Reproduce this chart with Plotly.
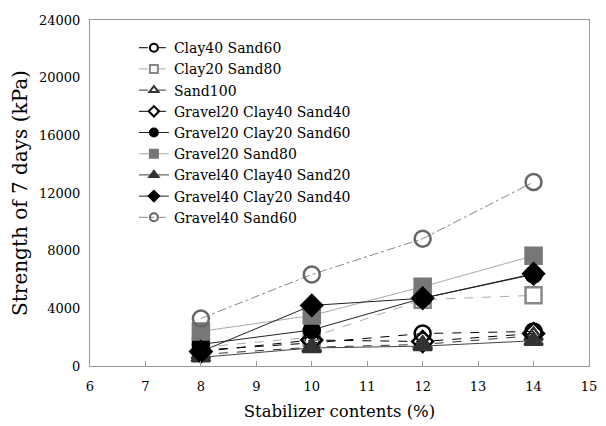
import plotly.graph_objects as go

x = [8, 10, 12, 14]
names = ["Clay40 Sand60", "Clay20 Sand80", "Sand100", "Gravel20 Clay40 Sand40",
         "Gravel20 Clay20 Sand60", "Gravel20 Sand80", "Gravel40 Clay40 Sand20",
         "Gravel40 Clay20 Sand40", "Gravel40 Sand60"]
clay40_sand60 = [1100, 1600, 2250, 2400]
clay20_sand80 = [1300, 2000, 4600, 4900]
sand100 = [800, 1300, 1500, 2100]
g20_c40_s40 = [1000, 1800, 1700, 2250]
g20_c20_s60 = [1500, 2500, 4700, 6350]
g20_s80 = [2400, 3500, 5500, 7650]
g40_c40_s20 = [600, 1250, 1380, 1750]
g40_c20_s40 = [1000, 4200, 4700, 6400]
g40_s60 = [3300, 6350, 8830, 12760]
series = [clay40_sand60, clay20_sand80, sand100, g20_c40_s40, g20_c20_s60,
          g20_s80, g40_c40_s20, g40_c20_s40, g40_s60]

styles = [
    dict(symbol="circle-open", mcolor="black", lcolor="black", dash="dash"),
    dict(symbol="square-open", mcolor="#888888", lcolor="#aaaaaa", dash="dash"),
    dict(symbol="triangle-up-open", mcolor="#333333", lcolor="#333333", dash="dash"),
    dict(symbol="diamond-open", mcolor="black", lcolor="black", dash="dash"),
    dict(symbol="circle", mcolor="black", lcolor="#222222", dash="solid"),
    dict(symbol="square", mcolor="#777777", lcolor="#aaaaaa", dash="solid"),
    dict(symbol="triangle-up", mcolor="#333333", lcolor="#444444", dash="solid"),
    dict(symbol="diamond", mcolor="black", lcolor="#222222", dash="solid"),
    dict(symbol="circle-open", mcolor="#666666", lcolor="#888888", dash="dashdot"),
]

fig = go.Figure()
for n, y, s in zip(names, series, styles):
    fig.add_trace(go.Scatter(
        x=x, y=y, name=n, mode="lines+markers", showlegend=False,
        line=dict(color=s["lcolor"], dash=s["dash"], width=1),
        marker=dict(symbol=s["symbol"], size=16, color=s["mcolor"],
                    line=dict(color=s["mcolor"], width=2.5)),
    ))
for n, s in zip(names, styles):
    fig.add_trace(go.Scatter(
        x=[None], y=[None], name=n, mode="lines+markers",
        line=dict(color=s["lcolor"], dash=s["dash"], width=1),
        marker=dict(symbol=s["symbol"], size=8, color=s["mcolor"],
                    line=dict(color=s["mcolor"], width=2)),
    ))

font = "DejaVu Serif"
fig.update_layout(
    width=606, height=426,
    margin=dict(l=90, r=9, t=20, b=58),
    plot_bgcolor="white", paper_bgcolor="white",
    font=dict(family=font, size=13, color="black"),
    showlegend=True,
    legend=dict(x=0.088, y=0.965, xanchor="left", yanchor="top",
                bgcolor="rgba(0,0,0,0)", font=dict(size=14, family=font),
                tracegroupgap=0, itemwidth=30),
    xaxis=dict(range=[6, 15], dtick=1, tick0=6, showgrid=False, zeroline=False,
               showline=True, linecolor="#999999", linewidth=1, mirror=True,
               ticks="inside", ticklen=5, tickcolor="#999999", ticklabelstandoff=8,
               title=dict(text="Stabilizer contents (%)", font=dict(size=16.5), standoff=12)),
    yaxis=dict(range=[0, 24000], dtick=4000, showgrid=False, zeroline=False,
               tickformat="d", ticklabelstandoff=6,
               showline=True, linecolor="#999999", linewidth=1, mirror=True,
               ticks="", tickcolor="#999999",
               title=dict(text="Strength of 7 days (kPa)", font=dict(size=20), standoff=6)),
)
fig.write_html("out.html")
